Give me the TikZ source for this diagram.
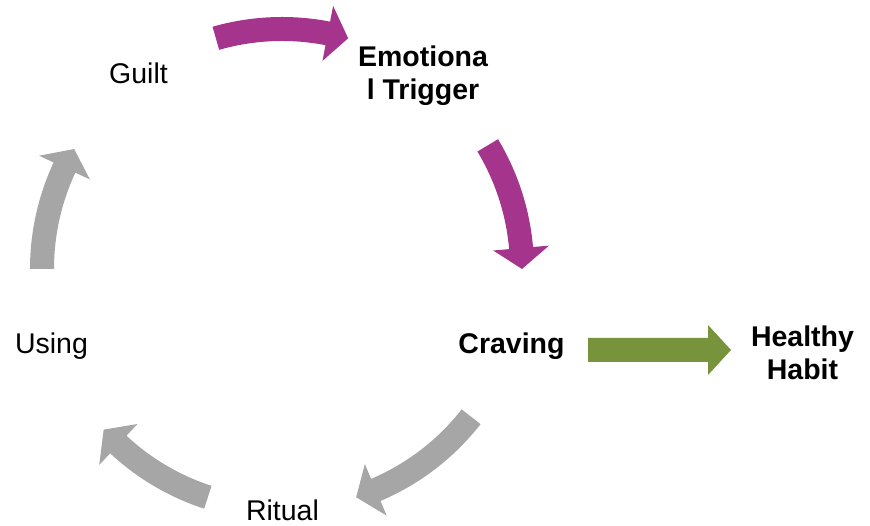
\documentclass[tikz,border=0pt]{standalone}
\usepackage{fontspec}
\setmainfont{Liberation Sans}
\definecolor{cyclepurple}{RGB}{165,52,140}
\definecolor{cyclegray}{RGB}{166,166,166}
\definecolor{habitgreen}{RGB}{119,147,60}
\newcommand\cyclearrow[3]{% colour, start angle, tip angle (clockwise)
  \fill[#1] (#2:252pt) arc[start angle=#2, end angle=#3+5, radius=252pt]
    -- (#3+5:268pt) -- (#3:240pt) -- (#3+5:212pt) -- (#3+5:228pt)
    arc[start angle=#3+5, end angle=#2, radius=228pt] -- cycle;}
\begin{document}
\begin{tikzpicture}[x=1pt,y=1pt,
  lbl/.style={font=\fontsize{28.5}{33}\selectfont, anchor=base, inner sep=0pt},
  blbl/.style={lbl, align=center, font=\fontsize{28.5}{33}\selectfont\bfseries}]
\useasboundingbox (0,0) rectangle (870,526);
\begin{scope}[shift={(282,257)}]
  \coordinate (C) at (0,0);
  \cyclearrow{cyclepurple}{106}{74}
  \cyclearrow{cyclepurple}{31}{0}
  \cyclearrow{cyclegray}{-38}{-72}
  \cyclearrow{cyclegray}{-108}{-138}
  \cyclearrow{cyclegray}{180}{150}
\end{scope}
\node[lbl]  (guilt)   at (138.5,442) {Guilt};
\node[blbl] (trigger) at (423,426) {Emotiona\\l Trigger};
\node[blbl] (craving) at (511.5,172) {Craving};
\node[blbl] (healthy) at (802.5,146) {Healthy\\Habit};
\node[lbl]  (using)   at (51.5,172) {Using};
\node[lbl, text depth=0pt] (ritual) at (282.5,5) {Ritual};
\coordinate (gs) at (588,176);
\coordinate (gt) at (731,176);
\fill[habitgreen] (gs) ++(0,12) -- ++(120,0) -- ++(0,13) -- (gt) -- ++(-23,-25) -- ++(0,13) -- ++(-120,0) -- cycle;
\end{tikzpicture}
\end{document}
